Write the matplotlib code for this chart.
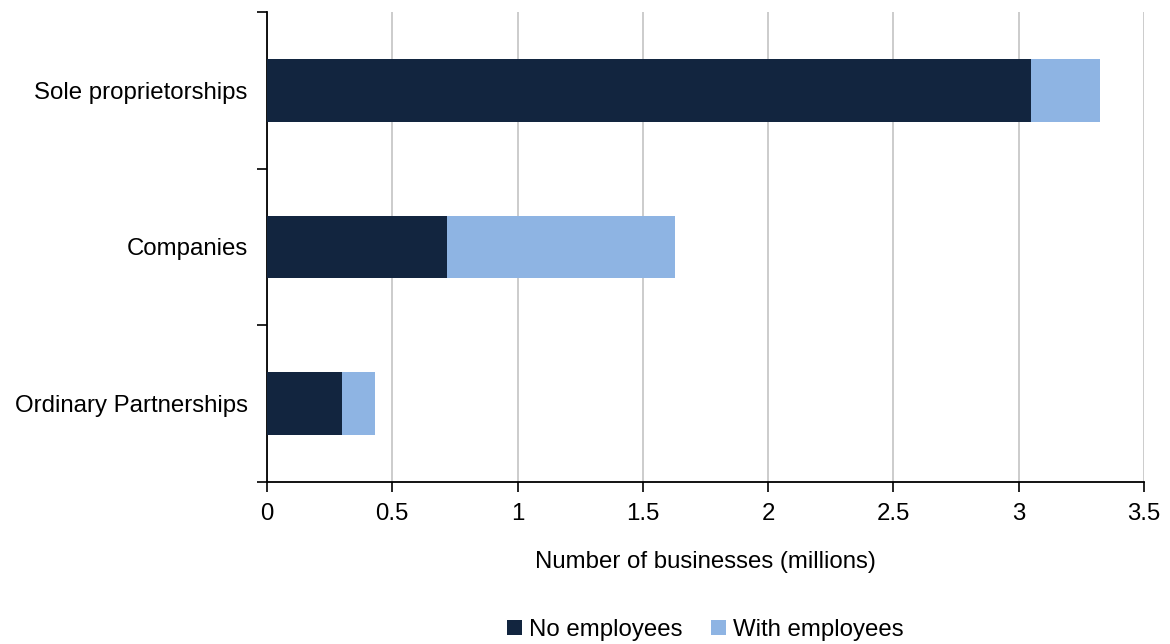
import matplotlib
matplotlib.use("Agg")
import matplotlib.pyplot as plt
import numpy as np

plt.rcParams['font.family'] = ['Liberation Sans', 'DejaVu Sans']

categories = ['Sole proprietorships', 'Companies', 'Ordinary Partnerships']
no_employees = [3.05, 0.72, 0.30]
with_employees = [0.275, 0.91, 0.13]

dark = '#12253f'
light = '#8eb4e3'

fig = plt.figure(figsize=(11.7, 6.44), dpi=100)
ax = fig.add_axes([0.2282, 0.2516, 0.7496, 0.7298])

y = np.arange(len(categories))
ax.barh(y, no_employees, height=0.4, color=dark, label='No employees', zorder=3)
ax.barh(y, with_employees, left=no_employees, height=0.4, color=light,
        label='With employees', zorder=3)

ax.set_ylim(len(categories) - 0.5, -0.5)
ax.set_xlim(0, 3.5)
ax.set_xticks(np.arange(0, 3.51, 0.5))
ax.set_xticklabels(['0', '0.5', '1', '1.5', '2', '2.5', '3', '3.5'])
ax.set_yticks(y)
ax.set_yticklabels(categories)
ax.set_yticks(np.arange(-0.5, len(categories), 1), minor=True)
ax.tick_params(axis='y', which='major', length=0, pad=14, labelsize=17.3)
ax.tick_params(axis='y', which='minor', length=7, width=1.2, direction='out')
ax.tick_params(axis='x', length=7, width=1.2, pad=8, labelsize=17.3)

ax.grid(axis='x', color='#c8c8c8', linewidth=1.3, zorder=0)
for s in ['top', 'right']:
    ax.spines[s].set_visible(False)
for s in ['left', 'bottom']:
    ax.spines[s].set_linewidth(1.3)
    ax.spines[s].set_color('black')

ax.set_xlabel('Number of businesses (millions)', fontsize=17.3, labelpad=19)

ax.legend(loc='upper center', bbox_to_anchor=(0.5, -0.245), ncol=2, frameon=False,
          fontsize=17.3, handlelength=0.6, handleheight=0.6, handletextpad=0.3,
          columnspacing=1.2)

fig.savefig('out.png', dpi=100)
